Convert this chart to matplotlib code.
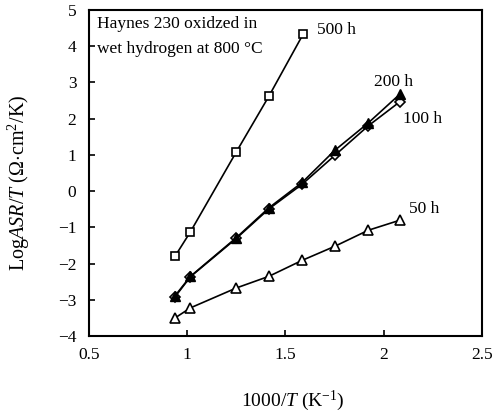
import matplotlib
matplotlib.use("Agg")
from matplotlib import pyplot as plt
import numpy as np

plt.rcParams['font.family'] = ['Liberation Serif', 'DejaVu Serif']
plt.rcParams['mathtext.fontset'] = 'custom'
plt.rcParams['mathtext.rm'] = 'Liberation Serif'
plt.rcParams['mathtext.it'] = 'Liberation Serif:italic'

# inverse temperature, 1000/T (1/K)
x_short = [0.938, 1.017, 1.251, 1.416, 1.591]
x_long = [0.938, 1.017, 1.251, 1.416, 1.585, 1.752, 1.921, 2.083]

# Log(ASR/T) for each oxidation time
y_500h = [-1.80, -1.12, 1.09, 2.62, 4.34]
y_200h = [-2.89, -2.35, -1.28, -0.46, 0.24, 1.13, 1.88, 2.68]
y_100h = [-2.92, -2.36, -1.30, -0.49, 0.19, 0.99, 1.80, 2.47]
y_50h = [-3.50, -3.22, -2.67, -2.35, -1.91, -1.52, -1.08, -0.80]

fig = plt.figure(figsize=(5.02, 4.16), dpi=100)
ax = fig.add_axes([0.177, 0.192, 0.783, 0.784])

ax.plot(x_short, y_500h, color='black', lw=1.2, marker='s', ms=6,
        mfc='white', mec='black', mew=1.2)
ax.plot(x_long, y_100h, color='black', lw=1.2, marker='D', ms=5,
        mfc='white', mec='black', mew=1.2)
ax.plot(x_long, y_200h, color='black', lw=1.2, marker='^', ms=7,
        mfc='black', mec='black', mew=1.0)
ax.plot(x_long, y_50h, color='black', lw=1.2, marker='^', ms=7,
        mfc='white', mec='black', mew=1.2)

ax.set_xlim(0.5, 2.5)
ax.set_ylim(-4, 5)
ax.set_xticks([0.5, 1, 1.5, 2, 2.5])
ax.set_xticklabels(['0.5', '1', '1.5', '2', '2.5'])
ax.set_yticks(range(-4, 6))
ax.set_yticklabels([str(v).replace('-', '\u2212') for v in range(-4, 6)])
ax.tick_params(direction='in', length=4, width=1.2, labelsize=12.5,
               top=False, right=False)
ax.tick_params(axis='x', pad=8)
ax.tick_params(axis='y', pad=9)
for s in ax.spines.values():
    s.set_linewidth(1.5)

ax.set_xlabel('1000/$T$ (K$^{-1}$)', fontsize=14)
ax.set_ylabel('Log$ASR$/$T$ ($\\Omega$$\\cdot$cm$^2$/K)', fontsize=14.5)
ax.xaxis.set_label_coords(0.52, -0.16)
ax.yaxis.set_label_coords(-0.145, 0.47)

ax.text(0.54, 4.6, 'Haynes 230 oxidzed in', fontsize=12.5, va='center')
ax.text(0.54, 3.92, 'wet hydrogen at 800 \u00b0C', fontsize=12.5, va='center')
ax.text(1.66, 4.45, '500 h', fontsize=12.5, va='center')
ax.text(1.95, 3.0, '200 h', fontsize=12.5, va='center')
ax.text(2.10, 2.0, '100 h', fontsize=12.5, va='center')
ax.text(2.13, -0.5, '50 h', fontsize=12.5, va='center')

fig.savefig('out.png', dpi=100)
